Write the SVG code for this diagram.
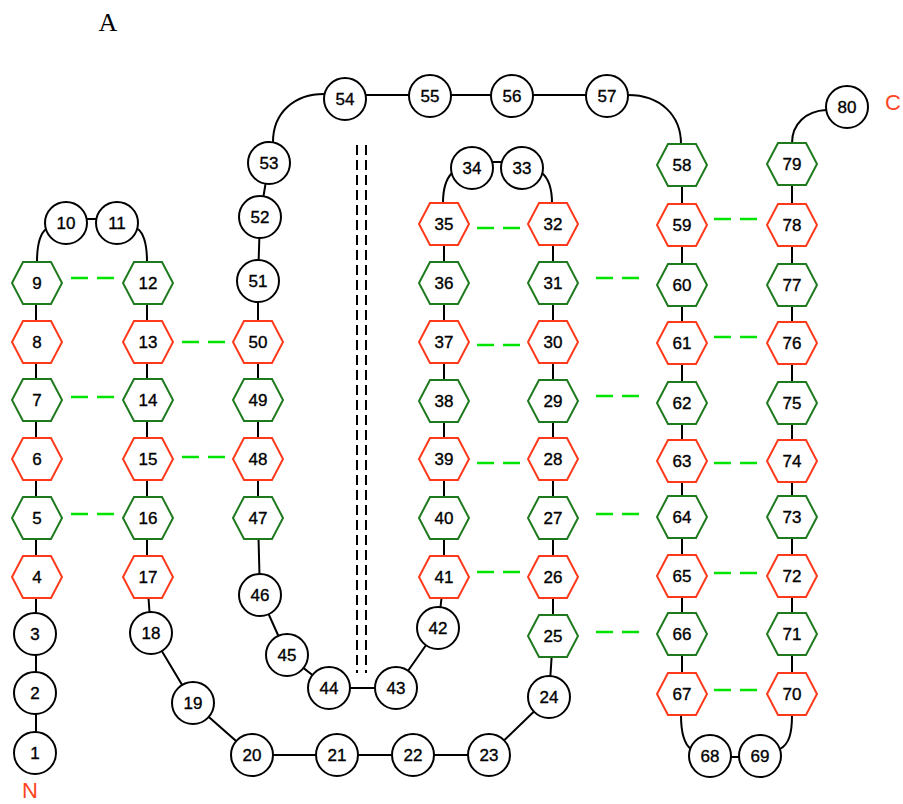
<svg xmlns="http://www.w3.org/2000/svg" xmlns:xlink="http://www.w3.org/1999/xlink" width="903" height="804" viewBox="0 0 903 804">
<style>
.c circle{fill:#fff;stroke:#000;stroke-width:2}
.r use{fill:#fff;stroke:#ff3a1c;stroke-width:2}
.g use{fill:#fff;stroke:#1f7a1f;stroke-width:2}
text{font-family:"Liberation Sans",Arial,sans-serif;font-size:17px;text-anchor:middle;fill:#000}
#nodes text{stroke:#000;stroke-width:0.35}
.conn path{stroke:#000;stroke-width:2;fill:none}
.hb line{stroke:#00e400;stroke-width:2.5;stroke-dasharray:17 9}
.gap line{stroke:#000;stroke-width:2;stroke-dasharray:10 5}
.lbl{fill:#ff4422;font-size:22px}
</style>
<defs>
<polygon id="hx" points="-25,0 -14,-21 14,-21 25,0 14,21 -14,21"/>
</defs>
<rect width="903" height="804" fill="#fff"/>
<text x="108" y="31" style="font-family:'Liberation Serif','Times New Roman',serif;font-size:26px">A</text>
<text class="lbl" x="30" y="798">N</text>
<text class="lbl" x="893" y="110">C</text>
<g id="connectors" class="conn">
<path d="M36,753 V283"/>
<path d="M37,262 C37,244 40,234 46,229"/>
<path d="M87,219 H96"/>
<path d="M147,262 C147,244 144,234 138,229"/>
<path d="M147,283 V577 L151,633 L193,703 L252,755 H489 L549,697 L553,636 V224"/>
<path d="M552,203 C552,190 549,179 542,173"/>
<path d="M493,162 H501"/>
<path d="M443,203 C443,190 446,179 452,173"/>
<path d="M444,224 V577 L438,628 L396,688 H329 L287,655 L260,595 L258,518 V281 L260,217 L269,163"/>
<path d="M273,142 C273,112 295,94 324,94"/>
<path d="M345,95 H607"/>
<path d="M628,95 C660,95 681,115 681,144"/>
<path d="M682,165 V694"/>
<path d="M681,715 C681,734 684,744 691,749"/>
<path d="M731,757 H739"/>
<path d="M792,715 C792,734 789,744 780,749"/>
<path d="M792,164 V694"/>
<path d="M792,143 C792,124 806,111 826,110"/>
</g>
<g id="hbonds" class="hb">
<line x1="71" y1="278" x2="114" y2="278"/>
<line x1="71" y1="397" x2="114" y2="397"/>
<line x1="71" y1="514" x2="114" y2="514"/>
<line x1="182" y1="342" x2="225" y2="342"/>
<line x1="182" y1="457" x2="225" y2="457"/>
<line x1="477" y1="228" x2="520" y2="228"/>
<line x1="477" y1="345" x2="520" y2="345"/>
<line x1="477" y1="463" x2="520" y2="463"/>
<line x1="477" y1="572" x2="520" y2="572"/>
<line x1="596" y1="278" x2="639" y2="278"/>
<line x1="596" y1="396" x2="639" y2="396"/>
<line x1="596" y1="514" x2="639" y2="514"/>
<line x1="596" y1="632" x2="639" y2="632"/>
<line x1="714" y1="219" x2="757" y2="219"/>
<line x1="714" y1="337" x2="757" y2="337"/>
<line x1="714" y1="463" x2="757" y2="463"/>
<line x1="714" y1="573" x2="757" y2="573"/>
<line x1="714" y1="690" x2="757" y2="690"/>
</g>
<g id="gap" class="gap">
<line x1="357" y1="145" x2="357" y2="673"/>
<line x1="366" y1="145" x2="366" y2="673"/>
</g>
<g id="nodes">
<g id="n1" class="c" transform="translate(35,753)"><circle r="21"/><text y="6">1</text></g>
<g id="n2" class="c" transform="translate(35,693)"><circle r="21"/><text y="6">2</text></g>
<g id="n3" class="c" transform="translate(35,634)"><circle r="21"/><text y="6">3</text></g>
<g id="n4" class="r" transform="translate(37,577)"><use href="#hx"/><text y="6">4</text></g>
<g id="n5" class="g" transform="translate(37,518)"><use href="#hx"/><text y="6">5</text></g>
<g id="n6" class="r" transform="translate(37,459)"><use href="#hx"/><text y="6">6</text></g>
<g id="n7" class="g" transform="translate(37,400)"><use href="#hx"/><text y="6">7</text></g>
<g id="n8" class="r" transform="translate(37,342)"><use href="#hx"/><text y="6">8</text></g>
<g id="n9" class="g" transform="translate(37,283)"><use href="#hx"/><text y="6">9</text></g>
<g id="n10" class="c" transform="translate(66,223)"><circle r="21"/><text y="6">10</text></g>
<g id="n11" class="c" transform="translate(117,223)"><circle r="21"/><text y="6">11</text></g>
<g id="n12" class="g" transform="translate(148,283)"><use href="#hx"/><text y="6">12</text></g>
<g id="n13" class="r" transform="translate(148,342)"><use href="#hx"/><text y="6">13</text></g>
<g id="n14" class="g" transform="translate(148,400)"><use href="#hx"/><text y="6">14</text></g>
<g id="n15" class="r" transform="translate(148,459)"><use href="#hx"/><text y="6">15</text></g>
<g id="n16" class="g" transform="translate(148,518)"><use href="#hx"/><text y="6">16</text></g>
<g id="n17" class="r" transform="translate(148,577)"><use href="#hx"/><text y="6">17</text></g>
<g id="n18" class="c" transform="translate(151,633)"><circle r="21"/><text y="6">18</text></g>
<g id="n19" class="c" transform="translate(193,703)"><circle r="21"/><text y="6">19</text></g>
<g id="n20" class="c" transform="translate(252,755)"><circle r="21"/><text y="6">20</text></g>
<g id="n21" class="c" transform="translate(337,755)"><circle r="21"/><text y="6">21</text></g>
<g id="n22" class="c" transform="translate(413,755)"><circle r="21"/><text y="6">22</text></g>
<g id="n23" class="c" transform="translate(489,755)"><circle r="21"/><text y="6">23</text></g>
<g id="n24" class="c" transform="translate(549,697)"><circle r="21"/><text y="6">24</text></g>
<g id="n25" class="g" transform="translate(553,636)"><use href="#hx"/><text y="6">25</text></g>
<g id="n26" class="r" transform="translate(553,577)"><use href="#hx"/><text y="6">26</text></g>
<g id="n27" class="g" transform="translate(553,518)"><use href="#hx"/><text y="6">27</text></g>
<g id="n28" class="r" transform="translate(553,459)"><use href="#hx"/><text y="6">28</text></g>
<g id="n29" class="g" transform="translate(553,401)"><use href="#hx"/><text y="6">29</text></g>
<g id="n30" class="r" transform="translate(553,342)"><use href="#hx"/><text y="6">30</text></g>
<g id="n31" class="g" transform="translate(553,283)"><use href="#hx"/><text y="6">31</text></g>
<g id="n32" class="r" transform="translate(553,224)"><use href="#hx"/><text y="6">32</text></g>
<g id="n33" class="c" transform="translate(522,168)"><circle r="21"/><text y="6">33</text></g>
<g id="n34" class="c" transform="translate(472,168)"><circle r="21"/><text y="6">34</text></g>
<g id="n35" class="r" transform="translate(444,224)"><use href="#hx"/><text y="6">35</text></g>
<g id="n36" class="g" transform="translate(444,283)"><use href="#hx"/><text y="6">36</text></g>
<g id="n37" class="r" transform="translate(444,342)"><use href="#hx"/><text y="6">37</text></g>
<g id="n38" class="g" transform="translate(444,401)"><use href="#hx"/><text y="6">38</text></g>
<g id="n39" class="r" transform="translate(444,459)"><use href="#hx"/><text y="6">39</text></g>
<g id="n40" class="g" transform="translate(444,518)"><use href="#hx"/><text y="6">40</text></g>
<g id="n41" class="r" transform="translate(444,577)"><use href="#hx"/><text y="6">41</text></g>
<g id="n42" class="c" transform="translate(438,628)"><circle r="21"/><text y="6">42</text></g>
<g id="n43" class="c" transform="translate(396,688)"><circle r="21"/><text y="6">43</text></g>
<g id="n44" class="c" transform="translate(329,688)"><circle r="21"/><text y="6">44</text></g>
<g id="n45" class="c" transform="translate(287,655)"><circle r="21"/><text y="6">45</text></g>
<g id="n46" class="c" transform="translate(260,595)"><circle r="21"/><text y="6">46</text></g>
<g id="n47" class="g" transform="translate(258,518)"><use href="#hx"/><text y="6">47</text></g>
<g id="n48" class="r" transform="translate(258,459)"><use href="#hx"/><text y="6">48</text></g>
<g id="n49" class="g" transform="translate(258,400)"><use href="#hx"/><text y="6">49</text></g>
<g id="n50" class="r" transform="translate(258,342)"><use href="#hx"/><text y="6">50</text></g>
<g id="n51" class="c" transform="translate(258,281)"><circle r="21"/><text y="6">51</text></g>
<g id="n52" class="c" transform="translate(260,217)"><circle r="21"/><text y="6">52</text></g>
<g id="n53" class="c" transform="translate(269,163)"><circle r="21"/><text y="6">53</text></g>
<g id="n54" class="c" transform="translate(345,99)"><circle r="21"/><text y="6">54</text></g>
<g id="n55" class="c" transform="translate(430,96)"><circle r="21"/><text y="6">55</text></g>
<g id="n56" class="c" transform="translate(512,96)"><circle r="21"/><text y="6">56</text></g>
<g id="n57" class="c" transform="translate(607,96)"><circle r="21"/><text y="6">57</text></g>
<g id="n58" class="g" transform="translate(682,165)"><use href="#hx"/><text y="6">58</text></g>
<g id="n59" class="r" transform="translate(682,225)"><use href="#hx"/><text y="6">59</text></g>
<g id="n60" class="g" transform="translate(682,285)"><use href="#hx"/><text y="6">60</text></g>
<g id="n61" class="r" transform="translate(682,343)"><use href="#hx"/><text y="6">61</text></g>
<g id="n62" class="g" transform="translate(682,403)"><use href="#hx"/><text y="6">62</text></g>
<g id="n63" class="r" transform="translate(682,461)"><use href="#hx"/><text y="6">63</text></g>
<g id="n64" class="g" transform="translate(682,517)"><use href="#hx"/><text y="6">64</text></g>
<g id="n65" class="r" transform="translate(682,576)"><use href="#hx"/><text y="6">65</text></g>
<g id="n66" class="g" transform="translate(682,634)"><use href="#hx"/><text y="6">66</text></g>
<g id="n67" class="r" transform="translate(682,694)"><use href="#hx"/><text y="6">67</text></g>
<g id="n68" class="c" transform="translate(710,756)"><circle r="21"/><text y="6">68</text></g>
<g id="n69" class="c" transform="translate(760,756)"><circle r="21"/><text y="6">69</text></g>
<g id="n70" class="r" transform="translate(792,694)"><use href="#hx"/><text y="6">70</text></g>
<g id="n71" class="g" transform="translate(792,634)"><use href="#hx"/><text y="6">71</text></g>
<g id="n72" class="r" transform="translate(792,576)"><use href="#hx"/><text y="6">72</text></g>
<g id="n73" class="g" transform="translate(792,517)"><use href="#hx"/><text y="6">73</text></g>
<g id="n74" class="r" transform="translate(792,461)"><use href="#hx"/><text y="6">74</text></g>
<g id="n75" class="g" transform="translate(792,403)"><use href="#hx"/><text y="6">75</text></g>
<g id="n76" class="r" transform="translate(792,343)"><use href="#hx"/><text y="6">76</text></g>
<g id="n77" class="g" transform="translate(792,285)"><use href="#hx"/><text y="6">77</text></g>
<g id="n78" class="r" transform="translate(792,225)"><use href="#hx"/><text y="6">78</text></g>
<g id="n79" class="g" transform="translate(792,164)"><use href="#hx"/><text y="6">79</text></g>
<g id="n80" class="c" transform="translate(847,107)"><circle r="21"/><text y="6">80</text></g>
</g>
</svg>
